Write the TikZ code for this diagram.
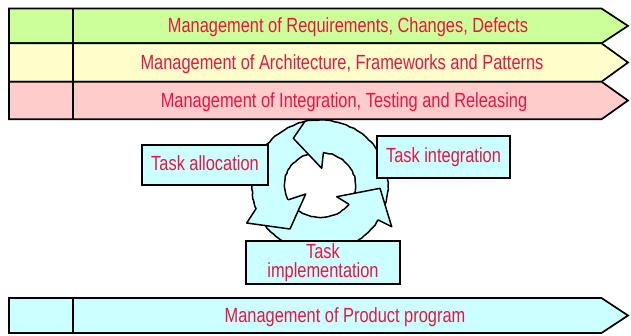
\documentclass[tikz,border=0pt]{standalone}
\usepackage{fontspec}
\setmainfont[FakeStretch=0.8]{Liberation Sans}
\usetikzlibrary{calc,decorations.pathmorphing}
\definecolor{reqgreen}{HTML}{CCFF99}
\definecolor{archyellow}{HTML}{FFFFCC}
\definecolor{intpink}{HTML}{FFCCCC}
\definecolor{progcyan}{HTML}{CCFFFF}
\definecolor{labelred}{RGB}{235,20,65}
\begin{document}
\begin{tikzpicture}[x=1pt,y=-1pt,
  outline/.style={draw=black, line width=1.7pt, line join=miter},
  divider/.style={draw=black, line width=2.8pt},
  lbl/.style={text=labelred, font=\fontsize{20.5pt}{19pt}\selectfont, inner sep=0pt},
  taskbox/.style={outline, fill=progcyan, lbl, inner sep=0pt},
  ringedge/.style={draw=black, line width=1.5pt, line join=round, line cap=round},
  roughedge/.style={ringedge, decorate,
    decoration={random steps, segment length=3pt, amplitude=0.45pt}},
]
\useasboundingbox (0,0) rectangle (631,335);
\pgfmathsetseed{4}

% ---- cycle of three curved arrows ----
\coordinate (Co) at (320,186);
\coordinate (Ci) at (320,185);
\fill[progcyan, even odd rule] (Co) ellipse [x radius=68, y radius=66]
                               (Ci) ellipse [x radius=35.5, y radius=32.5];
\draw[roughedge] (Co) ellipse [x radius=68, y radius=66];
\draw[roughedge] (Ci) ellipse [x radius=35.5, y radius=32.5];

% head on the left arrow
\coordinate (a1) at ($(Co)+(160:68 and 66)$);
\coordinate (a2) at (246.7,223);
\coordinate (a3) at (290,229);
\coordinate (a4) at (305.7,194);
\coordinate (a5) at ($(Ci)+(153:35.5 and 32.5)$);
\fill[progcyan] (a1)--(a2)--(a3)--(a4)--(a5)--cycle;
\draw[ringedge] (a1)--(a2)--(a3)--(a4)--(a5);

% head on the bottom arrow
\coordinate (b1) at ($(Co)+(31:68 and 66)$);
\coordinate (b2) at (391.7,226.7);
\coordinate (b3) at (380,188.3);
\coordinate (b4) at (336.7,196.7);
\coordinate (b5) at ($(Ci)+(36:35.5 and 32.5)$);
\fill[progcyan] (b1)--(b2)--(b3)--(b4)--(b5)--cycle;
\draw[ringedge] (b1)--(b2)--(b3)--(b4)--(b5);

% head on the top arrow
\coordinate (c1) at ($(Co)+(-103:68 and 66)$);
\coordinate (c2) at (293.3,138.3);
\coordinate (c3) at (321.7,168.3);
\coordinate (c4) at ($(Ci)+(-84.5:35.5 and 32.5)$);
\fill[progcyan] (c1)--(c2)--(c3)--(c4)--cycle;
\draw[ringedge] (c1)--(c2)--(c3)--(c4);

% ---- task boxes ----
\node[taskbox, minimum width=126pt, minimum height=40pt,
      text height=14.5pt, text depth=4.5pt] (alloc) at (205,165) {Task allocation};
\node[taskbox, minimum width=133pt, minimum height=42pt,
      text height=14.5pt, text depth=4.5pt] (integ) at (443.5,157) {Task integration};
\node[taskbox, minimum width=154pt, minimum height=43pt, align=center]
      (impl) at (323,262.5) {Task\\implementation};

% ---- management bands ----
\filldraw[outline, fill=reqgreen]   (9,8.5) -- (601.5,8.5) -- (628,25.9) -- (601.5,43.3) -- (9,43.3) -- cycle;
\filldraw[outline, fill=archyellow] (9,43.3) -- (601.5,43.3) -- (628,62.5) -- (601.5,81.7) -- (9,81.7) -- cycle;
\filldraw[outline, fill=intpink]    (9,81.7) -- (601.5,81.7) -- (628,100.5) -- (601.5,119.3) -- (9,119.3) -- cycle;
\filldraw[outline, fill=progcyan]   (9,298) -- (601.5,298) -- (628,315.5) -- (601.5,333) -- (9,333) -- cycle;
\draw[divider] (73,8.5) -- (73,119.3);
\draw[divider] (73,298) -- (73,333);

\node[lbl, anchor=base] (req)  at (348,32.3)  {Management of Requirements, Changes, Defects};
\node[lbl, anchor=base] (arch) at (342,69.6)  {Management of Architecture, Frameworks and Patterns};
\node[lbl, anchor=base] (intg) at (344,107.8) {Management of Integration, Testing and Releasing};
\node[lbl, anchor=base] (prog) at (345,322.2) {Management of Product program};
\end{tikzpicture}
\end{document}
